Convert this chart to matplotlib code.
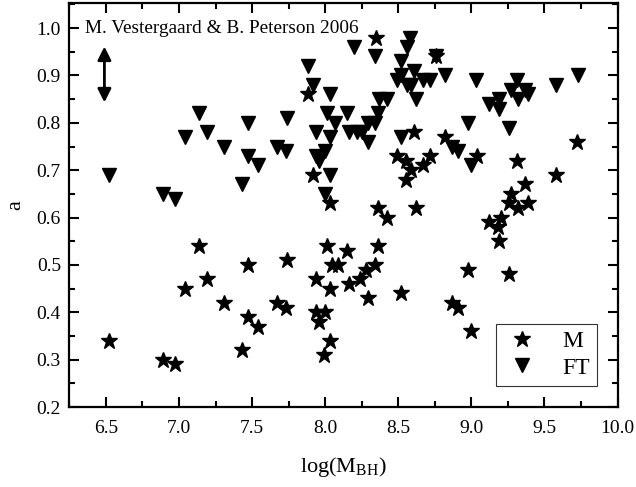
import matplotlib
matplotlib.use('Agg')
import matplotlib.pyplot as plt
from matplotlib.ticker import MultipleLocator

plt.rcParams['font.family'] = ['Liberation Serif', 'DejaVu Serif']
plt.rcParams['mathtext.fontset'] = 'custom'
plt.rcParams['mathtext.rm'] = 'Liberation Serif'

# M sample (stars)
m_x = [6.52, 6.89, 6.97, 7.04, 7.14, 7.19, 7.31, 7.43, 7.47, 7.47, 7.54, 7.67, 7.73, 7.74,
       7.88, 7.92, 7.94, 7.94, 7.96, 8.00, 7.99, 8.01, 8.03, 8.03, 8.03, 8.05, 8.09, 8.15,
       8.16, 8.24, 8.28, 8.29, 8.34, 8.36, 8.35, 8.36, 8.42, 8.49, 8.52, 8.55, 8.55, 8.59,
       8.61, 8.62, 8.67, 8.72, 8.76, 8.82, 8.87, 8.91, 8.98, 9.00, 9.04, 9.12, 9.18, 9.19,
       9.20, 9.26, 9.27, 9.26, 9.31, 9.32, 9.37, 9.39, 9.58, 9.72]
m_y = [0.34, 0.30, 0.29, 0.45, 0.54, 0.47, 0.42, 0.32, 0.39, 0.50, 0.37, 0.42, 0.41, 0.51,
       0.86, 0.69, 0.47, 0.40, 0.38, 0.40, 0.31, 0.54, 0.63, 0.45, 0.34, 0.50, 0.50, 0.53,
       0.46, 0.47, 0.49, 0.43, 0.50, 0.54, 0.98, 0.62, 0.60, 0.73, 0.44, 0.72, 0.68, 0.70,
       0.78, 0.62, 0.71, 0.73, 0.94, 0.77, 0.42, 0.41, 0.49, 0.36, 0.73, 0.59, 0.58, 0.55,
       0.60, 0.63, 0.65, 0.48, 0.72, 0.62, 0.67, 0.63, 0.69, 0.76]

# FT sample (triangles)
ft_x = [6.52, 6.89, 6.97, 7.04, 7.14, 7.19, 7.31, 7.43, 7.47, 7.47, 7.54, 7.67, 7.74, 7.73,
        7.88, 7.92, 8.03, 8.01, 7.94, 8.03, 8.07, 7.94, 8.00, 7.96, 8.03, 8.00,
        8.15, 8.16, 8.22, 8.25, 8.29, 8.29, 8.34, 8.36, 8.37, 8.42, 8.20, 8.34,
        8.52, 8.49, 8.52, 8.56, 8.59, 8.61, 8.52, 8.56, 8.58, 8.62, 8.67, 8.72, 8.76, 8.82,
        8.87, 8.91, 9.00, 8.98, 9.03,
        9.12, 9.19, 9.19, 9.27, 9.31, 9.32, 9.37, 9.39, 9.26,
        9.58, 9.73]
ft_y = [0.69, 0.65, 0.64, 0.77, 0.82, 0.78, 0.75, 0.67, 0.80, 0.73, 0.71, 0.75, 0.81, 0.74,
        0.92, 0.88, 0.86, 0.82, 0.78, 0.77, 0.80, 0.73, 0.74, 0.72, 0.69, 0.65,
        0.82, 0.78, 0.78, 0.78, 0.76, 0.80, 0.80, 0.82, 0.85, 0.85, 0.96, 0.94,
        0.77, 0.89, 0.90, 0.88, 0.88, 0.91, 0.93, 0.96, 0.98, 0.85, 0.89, 0.89, 0.94, 0.90,
        0.75, 0.74, 0.71, 0.80, 0.89,
        0.84, 0.85, 0.83, 0.87, 0.89, 0.85, 0.87, 0.86, 0.79,
        0.88, 0.90]

fig = plt.figure(figsize=(6.36, 4.87), dpi=100)
ax = fig.add_axes([0.109, 0.164, 0.862, 0.830])

ax.plot(m_x, m_y, '*', color='black', ms=12, label='M', linestyle='none')
ax.plot(ft_x, ft_y, 'v', color='black', ms=10, label='FT', linestyle='none')

ax.set_xlim(6.25, 10.0)
ax.set_ylim(0.2, 1.053)
ax.xaxis.set_major_locator(MultipleLocator(0.5))
ax.xaxis.set_minor_locator(MultipleLocator(0.25))
ax.yaxis.set_major_locator(MultipleLocator(0.1))
ax.yaxis.set_minor_locator(MultipleLocator(0.05))
ax.tick_params(which='both', direction='in', top=True, right=True, width=1.5, labelsize=14)
ax.tick_params(which='major', length=7)
ax.tick_params(which='minor', length=4)
ax.tick_params(axis='x', pad=9)
ax.tick_params(axis='y', pad=6)
for s in ax.spines.values():
    s.set_linewidth(1.6)

ax.set_xlabel(r'log(M$_{\rm BH}$)', fontsize=16, labelpad=13)
ax.set_ylabel('a', fontsize=16, labelpad=8)

ax.text(6.36, 1.0, 'M. Vestergaard & B. Peterson 2006', fontsize=13.9, va='center', ha='left')
ax.annotate('', xy=(6.49, 0.961), xytext=(6.49, 0.843),
            arrowprops=dict(arrowstyle='<|-|>', color='black', lw=2, mutation_scale=20,
                            shrinkA=0, shrinkB=0))

leg = ax.legend(loc='lower right', bbox_to_anchor=(0.963, 0.053), fontsize=17,
                frameon=True, fancybox=False, edgecolor='black', handletextpad=0.9,
                borderpad=0.3, labelspacing=0.2, borderaxespad=0, handlelength=1.6)
leg.get_frame().set_linewidth(0.8)

fig.savefig('out.png', dpi=100)
